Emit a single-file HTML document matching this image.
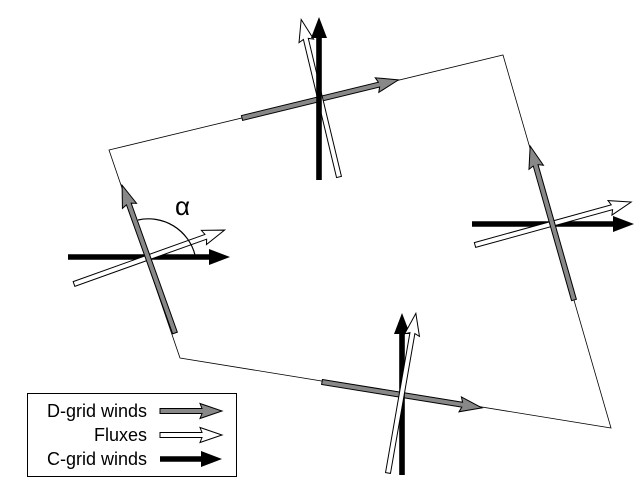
<!DOCTYPE html>
<html><head><meta charset="utf-8"><style>
html,body{margin:0;padding:0;background:#fff;}
svg{display:block;}
text{font-family:"Liberation Sans",sans-serif;}
</style></head><body>
<svg width="644" height="490" viewBox="0 0 644 490" xmlns="http://www.w3.org/2000/svg">
<!-- cell outline -->
<polygon points="109,150 503,55 611,428 180,358" fill="none" stroke="#000" stroke-width="0.8"/>

<!-- Left cross -->
<g transform="translate(68,257)"><polygon points="0,-2.8 141,-2.8 141,-8 162,0 141,8 141,2.8 0,2.8" fill="#000"/></g>
<g transform="translate(74,284) rotate(-19.7)"><polygon points="0,-2.5 140,-2.5 138,-7.5 160,0 138,7.5 140,2.5 0,2.5" fill="#fff" stroke="#000" stroke-width="1"/></g>
<g transform="translate(175,333) rotate(-109.7)"><polygon points="0,-2.5 137,-2.5 135,-7.5 157,0 135,7.5 137,2.5 0,2.5" fill="#888" stroke="#000" stroke-width="1"/></g>
<path d="M138,220 A48,48 0 0 1 195,255" fill="none" stroke="#000" stroke-width="1.2"/>
<text x="175" y="215" font-size="26" font-family="DejaVu Sans, sans-serif">α</text>

<!-- Top cross -->
<g transform="translate(242,118) rotate(-13.7)"><polygon points="0,-2.5 141,-2.5 139,-7.5 161,0 139,7.5 141,2.5 0,2.5" fill="#888" stroke="#000" stroke-width="1"/></g>
<g transform="translate(339,177) rotate(-103.5)"><polygon points="0,-2.5 142,-2.5 140,-7.5 162,0 140,7.5 142,2.5 0,2.5" fill="#fff" stroke="#000" stroke-width="1"/></g>
<g transform="translate(319,180) rotate(-90)"><polygon points="0,-2.8 142,-2.8 142,-8 163,0 142,8 142,2.8 0,2.8" fill="#000"/></g>

<!-- Right cross -->
<g transform="translate(472,224)"><polygon points="0,-2.8 141,-2.8 141,-8 162,0 141,8 141,2.8 0,2.8" fill="#000"/></g>
<g transform="translate(475,245) rotate(-15.4)"><polygon points="0,-2.5 142,-2.5 140,-7.5 162,0 140,7.5 142,2.5 0,2.5" fill="#fff" stroke="#000" stroke-width="1"/></g>
<g transform="translate(574,300) rotate(-105.9)"><polygon points="0,-2.5 140,-2.5 138,-7.5 160,0 138,7.5 140,2.5 0,2.5" fill="#888" stroke="#000" stroke-width="1"/></g>

<!-- Bottom cross -->
<g transform="translate(322,382) rotate(9.2)"><polygon points="0,-2.5 142,-2.5 140,-7.5 162,0 140,7.5 142,2.5 0,2.5" fill="#888" stroke="#000" stroke-width="1"/></g>
<g transform="translate(402,475) rotate(-90)"><polygon points="0,-2.8 141,-2.8 141,-8 162,0 141,8 141,2.8 0,2.8" fill="#000"/></g>
<g transform="translate(388,473) rotate(-80.1)"><polygon points="0,-2.5 142,-2.5 140,-7.5 162,0 140,7.5 142,2.5 0,2.5" fill="#fff" stroke="#000" stroke-width="1"/></g>

<!-- Legend -->
<rect x="27.5" y="393.5" width="209" height="83" fill="#fff" stroke="#000" stroke-width="1"/>
<text x="147" y="417" font-size="18" text-anchor="end">D-grid winds</text>
<text x="147" y="441" font-size="18" text-anchor="end">Fluxes</text>
<text x="147" y="465" font-size="18" text-anchor="end">C-grid winds</text>
<g transform="translate(160,411)"><polygon points="0,-2.5 42,-2.5 40,-7.5 62,0 40,7.5 42,2.5 0,2.5" fill="#888" stroke="#000" stroke-width="1"/></g>
<g transform="translate(160,435)"><polygon points="0,-2.5 42,-2.5 40,-7.5 62,0 40,7.5 42,2.5 0,2.5" fill="#fff" stroke="#000" stroke-width="1"/></g>
<g transform="translate(160,459)"><polygon points="0,-2.8 41,-2.8 41,-8 62,0 41,8 41,2.8 0,2.8" fill="#000"/></g>
</svg>
</body></html>
